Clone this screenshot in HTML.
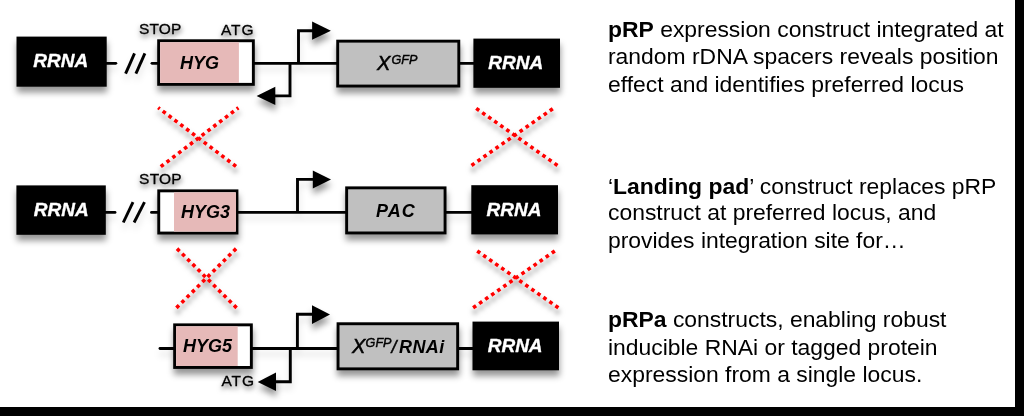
<!DOCTYPE html>
<html><head><meta charset="utf-8">
<style>
html,body{margin:0;padding:0;background:#000;}
body{width:1024px;height:416px;overflow:hidden;position:relative;}
#page{position:absolute;left:0;top:0;width:1015px;height:407px;background:#fff;}
svg{position:absolute;left:0;top:0;}
text{font-family:"Liberation Sans",sans-serif;}
.lbl{font-weight:bold;font-style:italic;font-size:18px;}
.xi{font-style:italic;font-size:20px;stroke:#000;stroke-width:0.55;}
.gi{font-style:italic;font-size:12.6px;stroke:#000;stroke-width:0.45;}
.sl{font-style:italic;font-size:18px;stroke:#000;stroke-width:0.5;}
.rr{font-weight:bold;font-style:italic;font-size:19px;fill:#fff;stroke:#fff;stroke-width:0.35;stroke-linejoin:round;}
.sm{font-size:15.5px;stroke:#000;stroke-width:0.3;}
.para{font-size:22.9px;fill:#000;}
</style></head><body>
<div id="page"></div>
<svg width="1024" height="416" viewBox="0 0 1024 416">
<defs>
<filter id="sh" x="-30%" y="-30%" width="160%" height="160%">
<feDropShadow dx="0.5" dy="5.8" stdDeviation="2.95" flood-color="#000" flood-opacity="0.41"/>
</filter>
<filter id="nf"><feOffset dx="0" dy="0"/></filter>
<filter id="shl" x="-30%" y="-30%" width="160%" height="160%">
<feDropShadow dx="0.5" dy="5.8" stdDeviation="2.95" flood-color="#000" flood-opacity="0.12"/>
</filter>
<filter id="shx" x="-30%" y="-30%" width="160%" height="160%">
<feDropShadow dx="0.5" dy="5" stdDeviation="2.8" flood-color="#000" flood-opacity="0.5"/>
</filter>
<filter id="sht" x="-30%" y="-50%" width="160%" height="200%">
<feDropShadow dx="0.5" dy="3" stdDeviation="2.5" flood-color="#000" flood-opacity="0.6"/>
</filter>
</defs>
<g filter="url(#shl)">
<g stroke="#000" stroke-width="2.9" fill="none" stroke-linecap="round">
<line x1="106" y1="63.35" x2="115.8" y2="63.35"/>
<line x1="152" y1="63.35" x2="159" y2="63.35"/>
<line x1="253" y1="63.35" x2="338" y2="63.35"/>
<line x1="459" y1="63.35" x2="474" y2="63.35"/>
<polyline points="298.5,63.35 298.5,30.7 314,30.7" stroke-linecap="butt"/>
<polyline points="290,63.35 290,95.9 274,95.9" stroke-linecap="butt"/>
<line x1="125.6" y1="73.6" x2="134.5" y2="53.4" stroke-linecap="butt"/>
<line x1="135.9" y1="73.6" x2="144.9" y2="53.4" stroke-linecap="butt"/>
</g>
<g stroke="#000" stroke-width="2.9" fill="none" stroke-linecap="round">
<line x1="105" y1="212.4" x2="115" y2="212.4"/>
<line x1="151.5" y1="212.4" x2="158" y2="212.4"/>
<line x1="237" y1="212.4" x2="346" y2="212.4"/>
<line x1="446" y1="212.4" x2="472" y2="212.4"/>
<polyline points="297.5,212.4 297.5,179.4 314,179.4" stroke-linecap="butt"/>
<line x1="123.3" y1="222.5" x2="133" y2="202.1" stroke-linecap="butt"/>
<line x1="134.1" y1="222.5" x2="144.5" y2="202.1" stroke-linecap="butt"/>
</g>
<g stroke="#000" stroke-width="2.9" fill="none" stroke-linecap="round">
<line x1="160" y1="348.5" x2="174" y2="348.5"/>
<line x1="252" y1="348.5" x2="337" y2="348.5"/>
<line x1="458" y1="348.5" x2="473" y2="348.5"/>
<polyline points="297.4,348.5 297.4,314.3 313,314.3" stroke-linecap="butt"/>
<polyline points="290.3,348.5 290.3,381.8 275,381.8" stroke-linecap="butt"/>
</g>
</g>
<g filter="url(#sh)">
<!-- Row 1 -->
<polygon points="312.1,21.6 312.1,39.8 330.9,30.7"/>
<polygon points="275.3,86.8 275.3,105.1 256.6,95.9"/>
<rect x="16.5" y="36.6" width="90.2" height="50.1" fill="#000"/>
<rect x="158.65" y="40.75" width="94.7" height="43.6" fill="#fff" stroke="#000" stroke-width="2.9"/>
<rect x="160.1" y="42.2" width="78.8" height="40.7" fill="#e6b9b8"/>
<rect x="337.7" y="41.15" width="121.1" height="44.9" fill="#c0c0c0" stroke="#000" stroke-width="2.9"/>
<rect x="473.4" y="38.6" width="86.6" height="49.2" fill="#000"/>

<!-- Row 2 -->
<polygon points="312.8,170.6 312.8,188.5 331,179.4"/>
<rect x="16.4" y="185.4" width="89.4" height="49.4" fill="#000"/>
<rect x="158.75" y="190.85" width="78.2" height="42.2" fill="#fff" stroke="#000" stroke-width="2.9"/>
<rect x="174" y="192.3" width="62" height="39.3" fill="#e6b9b8"/>
<rect x="346.65" y="187.85" width="98.4" height="45.1" fill="#c0c0c0" stroke="#000" stroke-width="2.9"/>
<rect x="471.3" y="185.2" width="86.7" height="49.2" fill="#000"/>

<!-- Row 3 -->
<polygon points="312,305.3 312,323.9 330,314.5"/>
<polygon points="276,372.5 276,391 257.7,382"/>
<rect x="174.65" y="324.85" width="76.7" height="42.6" fill="#fff" stroke="#000" stroke-width="2.9"/>
<rect x="176.1" y="326.3" width="61.6" height="39.7" fill="#e6b9b8"/>
<rect x="338.05" y="323.75" width="119.6" height="45.1" fill="#c0c0c0" stroke="#000" stroke-width="2.9"/>
<rect x="472.5" y="321.6" width="86.5" height="48.7" fill="#000"/>
</g>

<g filter="url(#sht)">
<text class="sm" x="138.9" y="34.1" letter-spacing="0.2">STOP</text>
<text class="sm" x="220.9" y="35" letter-spacing="1">ATG</text>
<text class="sm" x="139.1" y="183.9" letter-spacing="0.2">STOP</text>
<text class="sm" x="221.4" y="386.3" letter-spacing="1">ATG</text>
</g>
<!-- labels -->
<g filter="url(#nf)">
<text class="rr" x="33.3" y="67.4">RRNA</text>
<text class="rr" x="488.3" y="69.3">RRNA</text>
<text class="rr" x="33.8" y="216.3">RRNA</text>
<text class="rr" x="486.6" y="216.3">RRNA</text>
<text class="rr" x="487.7" y="352.2">RRNA</text>
<text class="lbl" x="180" y="68.5">HYG</text>
<text class="lbl" x="181" y="218">HYG3</text>
<text class="lbl" x="183" y="352.2">HYG5</text>
<text class="lbl" x="376" y="217.2" letter-spacing="1">PAC</text>
<text x="377" y="69.7" class="xi">X</text>
<text x="391.4" y="64" class="gi">GFP</text>
<text x="352" y="353.3" class="xi">X</text>
<text x="365.6" y="347.3" class="gi">GFP</text>
<text x="391.5" y="353.3" class="sl">/</text>
<text x="399" y="353.3" class="lbl" letter-spacing="0.4">RNAi</text>
</g>

<!-- crosses -->
<g filter="url(#shx)" stroke="#f00" stroke-width="3.6" fill="none">
<line x1="158.17" y1="107.65" x2="236.04" y2="166.38" stroke-dasharray="3.6 3.748" stroke-dashoffset="1.60"/>
<line x1="238.41" y1="107.74" x2="160.77" y2="166.69" stroke-dasharray="3.6 3.745" stroke-dashoffset="1.60"/>
<line x1="476.23" y1="108.37" x2="557.47" y2="165.43" stroke-dasharray="3.6 3.760" stroke-dashoffset="0.00"/>
<line x1="552.78" y1="108.67" x2="471.52" y2="165.43" stroke-dasharray="3.6 3.747" stroke-dashoffset="0.00"/>
<line x1="177.02" y1="248.63" x2="236.58" y2="307.87" stroke-dasharray="3.6 3.709" stroke-dashoffset="0.00"/>
<line x1="236.08" y1="248.63" x2="176.42" y2="307.87" stroke-dasharray="3.6 3.715" stroke-dashoffset="0.00"/>
<line x1="477.23" y1="250.97" x2="558.37" y2="307.83" stroke-dasharray="3.6 3.745" stroke-dashoffset="0.00"/>
<line x1="554.78" y1="250.97" x2="473.12" y2="307.83" stroke-dasharray="3.6 3.777" stroke-dashoffset="0.00"/>
</g>

<!-- paragraphs -->
<g filter="url(#nf)">
<text class="para" x="608" y="36.5"><tspan font-weight="bold">pRP</tspan> expression construct integrated at</text>
<text class="para" x="608" y="64.1">random rDNA spacers reveals position</text>
<text class="para" x="608" y="91.8">effect and identifies preferred locus</text>
<text class="para" x="608" y="193.5">‘<tspan font-weight="bold">Landing pad</tspan>’ construct replaces pRP</text>
<text class="para" x="608" y="220.3">construct at preferred locus, and</text>
<text class="para" x="608" y="247.5">provides integration site for…</text>
<text class="para" x="608" y="327.1"><tspan font-weight="bold">pRPa</tspan> constructs, enabling robust</text>
<text class="para" x="608" y="355.2">inducible RNAi or tagged protein</text>
<text class="para" x="608" y="381.7">expression from a single locus.</text>
</g>
</svg>
</body></html>
